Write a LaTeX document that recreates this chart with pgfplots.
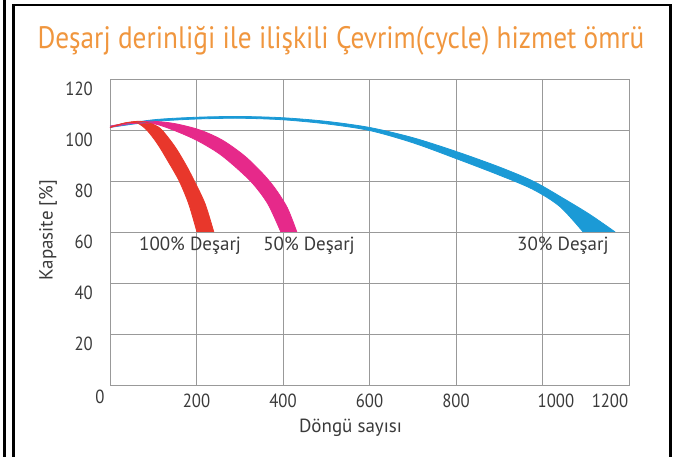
\documentclass[border=0pt]{standalone}
\usepackage{pgfplots}
\pgfplotsset{compat=1.18}
\usepgfplotslibrary{fillbetween}
\usepackage{fontspec}
\setmainfont{PT Sans}
\newfontfamily\condfont{PT Sans}[FakeStretch=0.88]
\definecolor{ttl}{HTML}{F0963E}
\definecolor{txt}{HTML}{3A3A3A}
\definecolor{gridc}{HTML}{999999}
\definecolor{redc}{HTML}{E8372B}
\definecolor{magc}{HTML}{E6298A}
\definecolor{bluec}{HTML}{1B9AD6}
\begin{document}
\begin{tikzpicture}[x=1pt,y=1pt]
\path[draw=none] (0,0) rectangle (686,457);
\fill[black] (3,0) rectangle (6,457);
\fill[black] (12,0) rectangle (15,453);
\fill[black] (12,451) rectangle (672,453);
\fill[black] (669,0) rectangle (672,453);
\node[anchor=base, text=ttl, font=\condfont\fontsize{31}{34}\selectfont, inner sep=0pt] at (341,408) {Deşarj derinliği ile ilişkili Çevrim(cycle) hizmet ömrü};
\begin{axis}[
  at={(110pt,72pt)}, anchor=south west,
  width=519pt, height=306pt, scale only axis,
  xmin=0, xmax=1200, ymin=0, ymax=120,
  xtick={0,200,...,1200}, xticklabels={},
  ytick={20,40,...,120},
  extra x ticks={200,400,600,800,1031,1156},
  extra x tick labels={200,400,600,800,1000,1200},
  extra x tick style={grid=none},
  grid=major,
  major grid style={gridc, line width=0.8pt},
  axis line style={gridc, line width=0.8pt},
  major tick length=0pt,
  /pgf/number format/assume math mode=true,
  tick label style={text=txt, font=\condfont\fontsize{19}{21}\selectfont},
  xticklabel style={anchor=north, inner sep=0pt, yshift=-8.5pt},
  yticklabel style={anchor=east, inner sep=0pt, xshift=-17pt, yshift=-10pt},
  xlabel={Döngü sayısı},
  ylabel={Kapasite [\%]},
  label style={text=txt, font=\fontsize{19}{21}\selectfont},
  xlabel style={at={(rel axis cs:0.5,0)}, anchor=center, yshift=-43pt, xshift=-19pt},
  ylabel style={at={(rel axis cs:0,0.506)}, anchor=center, yshift=62pt},
  clip=false,
]
% 30% blue
\addplot[name path=bU, draw=bluec, line width=0.8pt, smooth] coordinates {
(0,101.5) (100,104) (200,105) (300,105.3) (400,104.8) (500,103.4) (600,101) (700,97) (800,91.6) (900,85.5) (980,79.8) (1050,73) (1110,66.8) (1168,60)};
\addplot[name path=bL, draw=bluec, line width=0.8pt, smooth] coordinates {
(0,101) (100,103.3) (200,104.3) (300,104.6) (400,104) (500,102.4) (600,99.8) (700,95) (800,88.8) (900,82.3) (978,76.7) (1040,70) (1094,60)};
\addplot[bluec] fill between[of=bU and bL];
% 50% magenta
\addplot[name path=mU, draw=magc, line width=0.8pt, smooth] coordinates {
(0,101.5) (50,103) (100,103.4) (150,102.5) (208,100) (260,96) (310,90) (350,83.5) (380,77.5) (410,69.5) (432,60)};
\addplot[name path=mL, draw=magc, line width=0.8pt, smooth] coordinates {
(0,101) (50,102.5) (100,102.5) (146,100) (200,96) (250,91) (290,85.5) (330,79) (365,71) (395,60)};
\addplot[magc] fill between[of=mU and mL];
% 100% red
\addplot[name path=rU, draw=redc, line width=0.8pt, smooth] coordinates {
(0,101) (35,102.8) (70,103.4) (100,102.2) (120,100) (150,93.5) (175,86.5) (195,80) (220,71) (240,60)};
\addplot[name path=rL, draw=redc, line width=0.8pt, smooth] coordinates {
(0,101) (35,102.7) (62,102.8) (85,100) (110,94.5) (135,87.5) (160,80) (182,71) (201,60)};
\addplot[redc] fill between[of=rU and rL];
\node[text=txt, font=\condfont\fontsize{19}{21}\selectfont] at (axis cs:0,0) [xshift=-10pt, yshift=-12pt] {0};
\node[text=txt, font=\fontsize{19}{21}\selectfont, anchor=west, inner sep=0pt] at (axis cs:67,54.5) {100\% Deşarj};
\node[text=txt, font=\fontsize{19}{21}\selectfont, anchor=west, inner sep=0pt] at (axis cs:354,54.5) {50\% Deşarj};
\node[text=txt, font=\fontsize{19}{21}\selectfont, anchor=west, inner sep=0pt] at (axis cs:941,54.5) {30\% Deşarj};
\end{axis}
\end{tikzpicture}
\end{document}
